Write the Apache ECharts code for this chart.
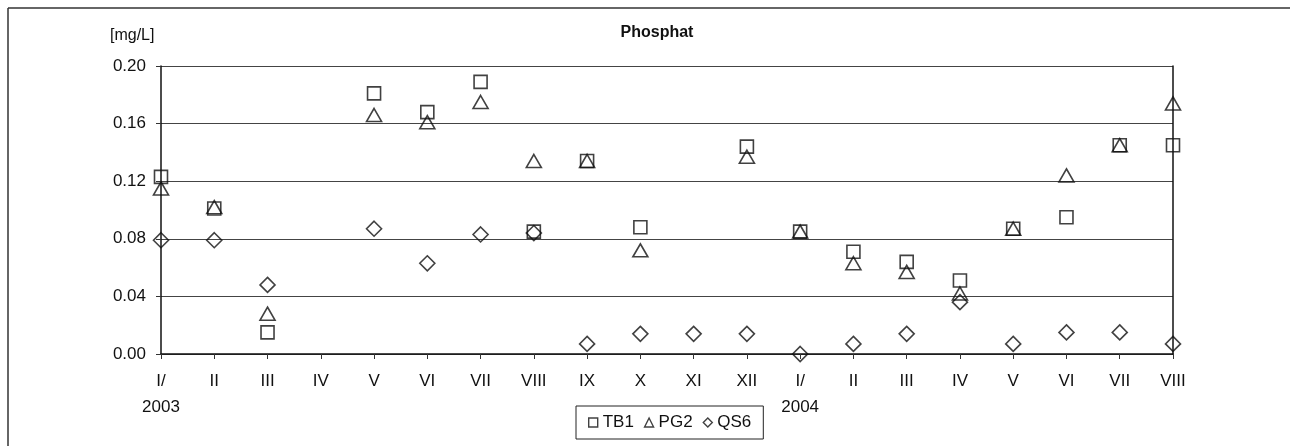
<!DOCTYPE html>
<html>
<head>
<meta charset="utf-8">
<script src="https://cdn.jsdelivr.net/npm/echarts@6/dist/echarts.min.js"></script>
<style>html,body{margin:0;padding:0;background:#fff}#c{width:1290px;height:446px}</style>
</head>
<body>
<div id="c"></div>
<script>
var categories = ['I/\n2003','II','III','IV','V','VI','VII','VIII','IX','X','XI','XII','I/\n2004','II','III','IV','V','VI','VII','VIII'];
var tb1 = [0.123,0.101,0.015,null,0.181,0.168,0.189,0.085,0.134,0.088,null,0.144,0.085,0.071,0.064,0.051,0.087,0.095,0.145,0.145];
var pg2 = [0.115,0.102,0.028,null,0.166,0.161,0.175,0.134,0.134,0.072,null,0.137,0.085,0.063,0.057,0.042,0.087,0.124,0.145,0.174];
var qs6 = [0.079,0.079,0.048,null,0.087,0.063,0.083,0.084,0.007,0.014,0.014,0.014,0.000,0.007,0.014,0.036,0.007,0.015,0.015,0.007];
var yTicks = {min:0, max:0.2, interval:0.04};

var font = 'Liberation Sans, Arial, sans-serif';
var chart = echarts.init(document.getElementById('c'));
function sym(name, data, symbol, size){
  return {name:name, type:'scatter', data:data, symbol:symbol, symbolSize:size,
    itemStyle:{color:'rgba(0,0,0,0)', borderColor:'#111', borderWidth:1.6}, z:3};
}
chart.setOption({
  animation:false,
  backgroundColor:'#fff',
  title:{text:'Phosphat', left:652, top:20, textAlign:'center',
    textStyle:{fontFamily:font, fontSize:16, fontWeight:'bold', color:'#111'}},
  grid:{left:161, right:117, top:66, bottom:92, containLabel:false},
  legend:{left:576, top:406, padding:[8,12,8,12],
    borderColor:'#222', borderWidth:1, itemGap:10, itemWidth:9, itemHeight:9,
    textStyle:{fontFamily:font, fontSize:17, color:'#111', padding:[0,0,0,0]},
    data:[
      {name:'TB1', icon:'rect', itemStyle:{color:'rgba(0,0,0,0)', borderColor:'#111', borderWidth:1.4}},
      {name:'PG2', icon:'triangle', itemStyle:{color:'rgba(0,0,0,0)', borderColor:'#111', borderWidth:1.4}},
      {name:'QS6', icon:'diamond', itemStyle:{color:'rgba(0,0,0,0)', borderColor:'#111', borderWidth:1.4}}
    ]},
  xAxis:{type:'category', data:categories, boundaryGap:false,
    axisLine:{lineStyle:{color:'#111', width:1.5}},
    axisTick:{show:true, alignWithLabel:true, length:5, lineStyle:{color:'#333'}},
    axisLabel:{fontFamily:font, fontSize:17, color:'#111', margin:14, lineHeight:26, interval:0,
      verticalAlign:'top'},
    splitLine:{show:false}},
  yAxis:[{type:'value', min:yTicks.min, max:yTicks.max, interval:yTicks.interval,
    axisLine:{show:true, lineStyle:{color:'#111', width:1.5}},
    axisTick:{show:true, length:5, lineStyle:{color:'#333'}},
    axisLabel:{fontFamily:font, fontSize:17, color:'#111', margin:15, formatter:function(v){return v.toFixed(2);}},
    splitLine:{show:true, lineStyle:{color:'#444', width:1}}},
   {type:'value', position:'right', min:yTicks.min, max:yTicks.max, interval:yTicks.interval,
    axisLine:{show:true, lineStyle:{color:'#111', width:1.5}},
    axisTick:{show:false}, axisLabel:{show:false}, splitLine:{show:false}}],
  graphic:[
    {type:'text', left:110, top:28, style:{text:'[mg/L]', font:'16px '+font, fill:'#111'}},
    {type:'line', shape:{x1:8, y1:8, x2:1290, y2:8}, style:{stroke:'#333', lineWidth:1.5}},
    {type:'line', shape:{x1:8, y1:8, x2:8, y2:446}, style:{stroke:'#333', lineWidth:1.5}}
  ],
  series:[
    sym('TB1', tb1, 'rect', [13,13]),
    sym('PG2', pg2, 'triangle', [15,13]),
    sym('QS6', qs6, 'diamond', [15,15])
  ]
});
</script>
</body>
</html>
